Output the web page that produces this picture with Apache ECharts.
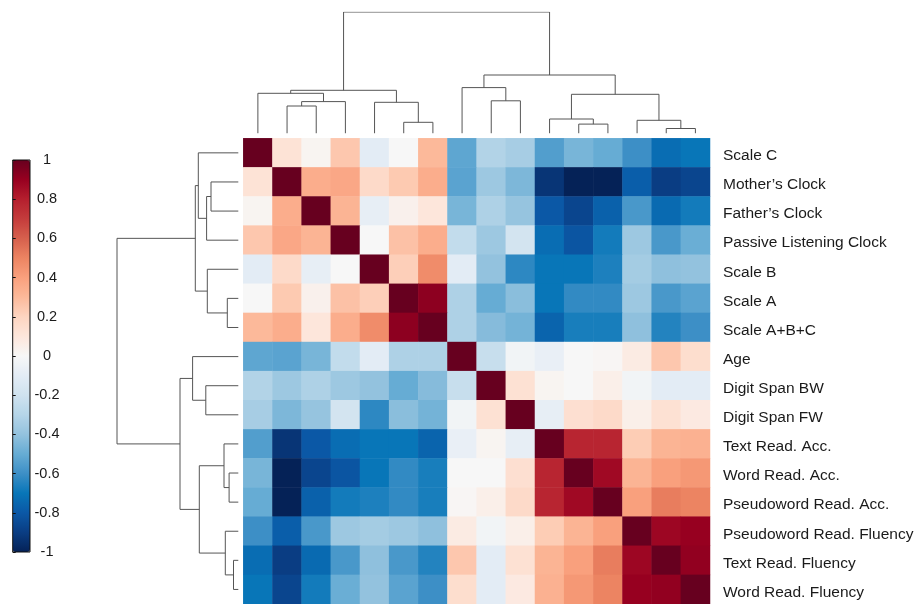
<!DOCTYPE html>
<html>
<head>
<meta charset="utf-8">
<script src="https://cdn.jsdelivr.net/npm/echarts@6.0.0/dist/echarts.min.js"></script>
<style>
  html, body { margin: 0; padding: 0; background: #fff; }
  #chart { width: 919px; height: 604px; }
</style>
</head>
<body>
<div id="chart"></div>
<script>
// variables, in dendrogram order (same order for rows and columns)
const labels = [
  'Scale C', 'Mother\u2019s Clock', 'Father\u2019s Clock', 'Passive Listening Clock',
  'Scale B', 'Scale A', 'Scale A+B+C', 'Age', 'Digit Span BW', 'Digit Span FW',
  'Text Read. Acc.', 'Word Read. Acc.', 'Pseudoword Read. Acc.',
  'Pseudoword Read. Fluency', 'Text Read. Fluency', 'Word Read. Fluency'
];

// correlation matrix, one row per variable
const corr = [
  [1, 0.12, 0.02, 0.25, -0.1, 0.0, 0.3, -0.52, -0.31, -0.34, -0.55, -0.46, -0.5, -0.6, -0.73, -0.7],
  [0.12, 1, 0.35, 0.37, 0.17, 0.24, 0.35, -0.53, -0.37, -0.45, -0.93, -1.0, -1.0, -0.78, -0.9, -0.87],
  [0.02, 0.35, 1, 0.32, -0.08, 0.04, 0.1, -0.46, -0.32, -0.39, -0.8, -0.87, -0.77, -0.57, -0.74, -0.68],
  [0.25, 0.37, 0.32, 1, 0.0, 0.27, 0.35, -0.25, -0.37, -0.18, -0.73, -0.81, -0.68, -0.37, -0.57, -0.49],
  [-0.1, 0.17, -0.08, 0.0, 1, 0.22, 0.47, -0.1, -0.4, -0.63, -0.7, -0.7, -0.66, -0.35, -0.41, -0.4],
  [0.0, 0.24, 0.04, 0.27, 0.22, 1, 0.92, -0.32, -0.5, -0.42, -0.7, -0.62, -0.62, -0.37, -0.57, -0.53],
  [0.3, 0.35, 0.1, 0.35, 0.47, 0.92, 1, -0.32, -0.43, -0.47, -0.76, -0.67, -0.67, -0.41, -0.65, -0.6],
  [-0.52, -0.53, -0.46, -0.25, -0.1, -0.32, -0.32, 1, -0.23, -0.03, -0.07, 0.0, 0.01, 0.07, 0.25, 0.15],
  [-0.31, -0.37, -0.32, -0.37, -0.4, -0.5, -0.43, -0.23, 1, 0.13, 0.02, 0.0, 0.05, -0.03, -0.1, -0.1],
  [-0.34, -0.45, -0.39, -0.18, -0.63, -0.42, -0.47, -0.03, 0.13, 1, -0.08, 0.14, 0.17, 0.05, 0.13, 0.08],
  [-0.55, -0.93, -0.8, -0.73, -0.7, -0.7, -0.76, -0.07, 0.02, -0.08, 1, 0.78, 0.78, 0.23, 0.32, 0.33],
  [-0.46, -1.0, -0.87, -0.81, -0.7, -0.62, -0.67, 0.0, 0.0, 0.14, 0.78, 1, 0.87, 0.32, 0.4, 0.43],
  [-0.5, -1.0, -0.77, -0.68, -0.66, -0.62, -0.67, 0.01, 0.05, 0.17, 0.78, 0.87, 1, 0.4, 0.52, 0.5],
  [-0.6, -0.78, -0.57, -0.37, -0.35, -0.37, -0.41, 0.07, -0.03, 0.05, 0.23, 0.32, 0.4, 1, 0.88, 0.9],
  [-0.73, -0.9, -0.74, -0.57, -0.41, -0.57, -0.65, 0.25, -0.1, 0.13, 0.32, 0.4, 0.52, 0.88, 1, 0.91],
  [-0.7, -0.87, -0.68, -0.49, -0.4, -0.53, -0.6, 0.15, -0.1, 0.08, 0.33, 0.43, 0.5, 0.9, 0.91, 1]
];

// linkage: [child a, child b, height]; ids 0-15 are leaves, 16+ are merges in order
const linkage = [
  [1, 2, 27.3],
  [16, 3, 31.7],
  [0, 17, 40],
  [5, 6, 11],
  [4, 19, 31],
  [18, 20, 43],
  [8, 9, 32.5],
  [7, 22, 45.7],
  [11, 12, 9.2],
  [10, 24, 14.3],
  [14, 15, 4.8],
  [13, 26, 13],
  [25, 27, 39],
  [23, 28, 58.3],
  [21, 29, 121.3]
];

const colorTicks = [1, 0.8, 0.6, 0.4, 0.2, 0, -0.2, -0.4, -0.6, -0.8, -1];
// diverging red-blue scale, -1 .. 1 in steps of 0.1
const palette = [
  '#052257', '#0a3d83', '#0b58a6', '#0876b8', '#3d8fc6', '#66acd4', '#93c2de',
  '#b5d5e8', '#cfe2ef', '#e3ecf5', '#f7f7f7', '#fde6db', '#fdd5c1', '#fcb99a',
  '#f9a07d', '#ec8462', '#d6604d', '#c43c3c', '#b51f2e', '#970020', '#67001f'
];

// heatmap cells
const cells = [];
corr.forEach((row, i) => {
  row.forEach((v, j) => { cells.push([j, i, v]); });
});

// dendrogram link shapes: for each merge, a U from child a to child b
const pos = [], hgt = [];
for (let i = 0; i < labels.length; i++) { pos.push(i); hgt.push(0); }
const links = [];
linkage.forEach(l => {
  const a = l[0], b = l[1], h = l[2];
  links.push([[pos[a], hgt[a]], [pos[a], h], [pos[b], h], [pos[b], hgt[b]]]);
  pos.push((pos[a] + pos[b]) / 2);
  hgt.push(h);
});

const topLinks = links.map(c => ({ coords: c }));
const leftLinks = links.map(c => ({ coords: c.map(p => [p[1], p[0]]) }));

const hmLeft = 243.3, hmTop = 138.3, hmSize = 466.7;
const hidden = { show: false };
const lineCol = '#555';
const font = 'Liberation Sans, Arial, sans-serif';

const chart = echarts.init(document.getElementById('chart'));
chart.setOption({
  backgroundColor: '#fff',
  animation: false,
  grid: [
    { left: hmLeft, top: hmTop, width: hmSize, height: hmSize },       // heatmap
    { left: hmLeft, top: 12.3, width: hmSize, height: 121 },           // top dendrogram
    { left: 116.7, top: hmTop, width: 121.6, height: hmSize },         // left dendrogram
    { left: 12.7, top: 160, width: 17.3, height: 392, show: true, z: 10,
      borderColor: '#111', borderWidth: 1, backgroundColor: 'transparent' } // colorbar frame
  ],
  xAxis: [
    { gridIndex: 0, type: 'category', data: labels, axisLine: hidden, axisTick: hidden, axisLabel: hidden, splitLine: hidden },
    { gridIndex: 1, type: 'value', min: -0.5, max: 15.5, show: false },
    { gridIndex: 2, type: 'value', min: 0, max: 121.6, inverse: true, show: false },
    { gridIndex: 3, type: 'value', min: 0, max: 1, show: false }
  ],
  yAxis: [
    { gridIndex: 0, type: 'category', data: labels, inverse: true, position: 'right',
      axisLine: hidden, axisTick: hidden, splitLine: hidden,
      axisLabel: { margin: 13, fontSize: 15.5, color: '#1a1a1a', fontFamily: font,
        verticalAlign: 'top', lineHeight: 6 } },
    { gridIndex: 1, type: 'value', min: 0, max: 121, show: false },
    { gridIndex: 2, type: 'value', min: -0.5, max: 15.5, inverse: true, show: false },
    { gridIndex: 3, type: 'value', min: -1, max: 1, interval: 0.2, position: 'right', z: 10,
      axisLine: { show: false },
      splitLine: hidden,
      axisTick: { show: true, length: 3, lineStyle: { color: '#111' } },
      axisLabel: {
        margin: 17, align: 'center', fontSize: 14.5, color: '#1a1a1a',
        fontFamily: font,
        formatter: v => {
          const t = colorTicks.find(c => Math.abs(c - v) < 1e-6);
          return t === undefined ? '' : String(t);
        }
      } }
  ],
  visualMap: {
    type: 'continuous',
    seriesIndex: 0,
    min: -1, max: 1,
    calculable: false,
    orient: 'vertical',
    left: 12.7, top: 160,
    itemWidth: 17.3, itemHeight: 392,
    padding: 0,
    text: null,
    showLabel: false,
    inRange: { color: palette }
  },
  series: [
    {
      type: 'heatmap',
      xAxisIndex: 0, yAxisIndex: 0,
      data: cells,
      progressive: 0,
      emphasis: { disabled: true },
      itemStyle: { borderWidth: 0 }
    },
    {
      type: 'lines',
      coordinateSystem: 'cartesian2d',
      xAxisIndex: 1, yAxisIndex: 1,
      polyline: true,
      silent: true,
      lineStyle: { color: lineCol, width: 1, opacity: 1 },
      data: topLinks
    },
    {
      type: 'lines',
      coordinateSystem: 'cartesian2d',
      xAxisIndex: 2, yAxisIndex: 2,
      polyline: true,
      silent: true,
      lineStyle: { color: lineCol, width: 1, opacity: 1 },
      data: leftLinks
    }
  ]
});
</script>
</body>
</html>
